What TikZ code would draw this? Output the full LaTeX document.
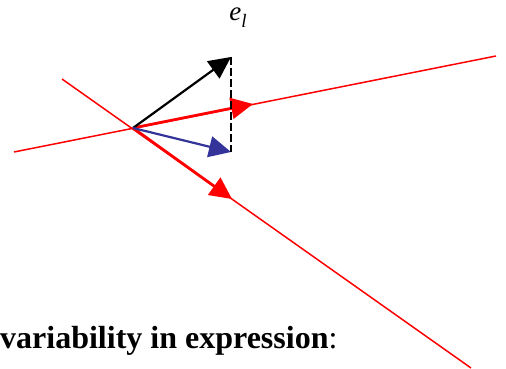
\documentclass[tikz,border=0pt]{standalone}
\usepackage{fontspec}
\setmainfont{Liberation Serif}
\usetikzlibrary{arrows.meta}

\begin{document}
\begin{tikzpicture}[x=1pt,y=-1pt]

% Define styles
\tikzstyle{axis} = [red, line width=1.5pt]
\tikzstyle{unitvec} = [red, line width=2.8pt, -{Triangle[length=22pt,width=21pt]}]
\tikzstyle{vec} = [line width=2.2pt, -{Triangle[length=22pt,width=21pt]}]
\definecolor{projblue}{RGB}{51,51,153}

\useasboundingbox (0,0) rectangle (506,369);

% Points
\coordinate (o) at (133,128);
\coordinate (a1) at (14,152);
\coordinate (a2) at (496,56);
\coordinate (b1) at (62,79);
\coordinate (b2) at (471,368);
\coordinate (tip) at (231,57);
\coordinate (proj) at (231,152);
\coordinate (u1) at (253,104);
\coordinate (u2) at (232,199);

% Labels
\node (el) at (238,18) {\fontsize{27}{30}\selectfont\itshape e\raisebox{-0.25em}{\fontsize{19}{22}\selectfont l}};
\node (caption) [anchor=base west, inner sep=0pt] at (0,348) {\fontsize{32}{36}\selectfont\bfseries variability in expression\mdseries:};

% Lines
\draw [axis] (a1) -- (a2);
\draw [axis] (b1) -- (b2);
\draw [unitvec] (o) -- (u1);
\draw [unitvec] (o) -- (u2);
\draw [vec, black] (o) -- (tip);
\draw [vec, projblue] (o) -- (proj);
\draw [line width=2pt, dash pattern=on 8pt off 3pt] (tip) -- (proj);

\end{tikzpicture}
\end{document}
